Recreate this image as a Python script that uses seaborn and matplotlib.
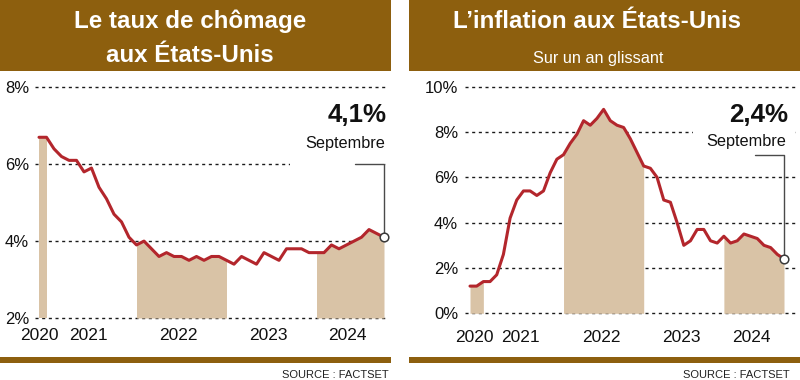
import numpy as np
import pandas as pd
import matplotlib
matplotlib.use("Agg")
import matplotlib.pyplot as plt
from matplotlib.patches import Rectangle
from matplotlib import font_manager as fm
import seaborn as sns

# ---------------- data ----------------
unemp_first_month = "2020-11-01"
unemployment = [6.7, 6.7,
                6.4, 6.2, 6.1, 6.1, 5.8, 5.9, 5.4, 5.1, 4.7, 4.5, 4.1, 3.9,
                4.0, 3.8, 3.6, 3.7, 3.6, 3.6, 3.5, 3.6, 3.5, 3.6, 3.6, 3.5,
                3.4, 3.6, 3.5, 3.4, 3.7, 3.6, 3.5, 3.8, 3.8, 3.8, 3.7, 3.7,
                3.7, 3.9, 3.8, 3.9, 4.0, 4.1, 4.3, 4.2, 4.1]

infl_first_month = "2020-10-01"
inflation = [1.2, 1.2, 1.4,
             1.4, 1.7, 2.6, 4.2, 5.0, 5.4, 5.4, 5.2, 5.4, 6.2, 6.8, 7.0,
             7.5, 7.9, 8.5, 8.3, 8.6, 9.0, 8.5, 8.3, 8.2, 7.7, 7.1, 6.5,
             6.4, 6.0, 5.0, 4.9, 4.0, 3.0, 3.2, 3.7, 3.7, 3.2, 3.1, 3.4,
             3.1, 3.2, 3.5, 3.4, 3.3, 3.0, 2.9, 2.6, 2.4]

years = [2020, 2021, 2022, 2023, 2024]
shaded_years = [2020, 2022, 2024]
unemp_ticks = [2, 4, 6, 8]
infl_ticks = [0, 2, 4, 6, 8, 10]
unemp_title = ["Le taux de chômage", "aux États-Unis"]
infl_title = "L\u2019inflation aux États-Unis"
infl_subtitle = "Sur un an glissant"
unemp_last_label = "4,1%"
infl_last_label = "2,4%"
month_label = "Septembre"
source_label = "SOURCE : FACTSET"

# ---------------- style ----------------
sns.set_theme(style="white")
plt.rcParams["font.family"] = ["Liberation Sans", "DejaVu Sans"]


def has_font(name):
    try:
        fm.findfont(fm.FontProperties(family=name), fallback_to_default=False)
        return True
    except Exception:
        return False


NARROW = "Liberation Sans Narrow" if has_font("Liberation Sans Narrow") else None

BROWN = "#8D5F0E"
RED = "#B3262C"
TAN = "#D9C3A6"
LEAD = "#4A4A4A"

W, H = 800, 380
fig = plt.figure(figsize=(8, 3.8), dpi=100)
fig.patch.set_facecolor("white")


def px(x, y_top):
    return x / W, 1 - y_top / H


def ax_px(x0, x1, y_top, y_bottom):
    return fig.add_axes([x0 / W, 1 - y_bottom / H, (x1 - x0) / W, (y_bottom - y_top) / H])


def band_ranges(dates):
    out = {}
    n = len(dates)
    for yr in years:
        prev_dec = np.where((dates.year == yr - 1) & (dates.month == 12))[0]
        this_dec = np.where((dates.year == yr) & (dates.month == 12))[0]
        s = int(prev_dec[0]) if len(prev_dec) else 0
        e = int(this_dec[0]) if len(this_dec) else n - 1
        out[yr] = (s, e)
    return out


def draw_panel(ax, values, first_month, ylim, ticks, ylabel_pad, xlabel_pad):
    dates = pd.date_range(first_month, periods=len(values), freq="MS")
    df = pd.DataFrame({"i": np.arange(len(values)), "v": values})
    bands = band_ranges(dates)
    lo = ylim[0]
    # gridlines
    for t in ticks:
        ax.axhline(t, color="#1a1a1a", lw=1.0, ls=(0, (2.2, 2.6)), zorder=1)
    # shaded alternate years
    for yr in shaded_years:
        s, e = bands[yr]
        ax.fill_between(df["i"][s:e + 1], df["v"][s:e + 1], lo, color=TAN, lw=0, zorder=2)
    sns.lineplot(data=df, x="i", y="v", ax=ax, color=RED, lw=2.2, zorder=4)
    for l in ax.lines:
        l.set_clip_on(False)
    ax.set_ylim(*ylim)
    ax.set_yticks(ticks)
    ax.set_yticklabels([f"{t}%" for t in ticks])
    mids = [(bands[yr][0] + bands[yr][1]) / 2 - 0.4 for yr in years]
    ax.set_xticks(mids)
    ax.set_xticklabels([str(y) for y in years])
    ax.tick_params(axis="y", length=0, pad=ylabel_pad, labelsize=12, colors="#111111")
    ax.tick_params(axis="x", length=0, pad=xlabel_pad, colors="#111111")
    for lab in ax.get_xticklabels():
        if NARROW:
            lab.set_fontfamily([NARROW, "DejaVu Sans"])
            lab.set_fontsize(13.5)
        else:
            lab.set_fontsize(12.5)
    ax.set_xlabel("")
    ax.set_ylabel("")
    for sp in ax.spines.values():
        sp.set_visible(False)
    ax.set_facecolor("none")
    return df


# ---------------- left panel ----------------
axL = ax_px(35, 385, 87.3, 318)
dfL = draw_panel(axL, unemployment, unemp_first_month, (2, 8), unemp_ticks, 4.3, 7.0)
axL.set_xlim(-4 / 7.5, len(unemployment) - 1 + 1 / 7.5)
lastL = len(unemployment) - 1
axL.add_patch(Rectangle((33.5, 5.92), 20, 1.95, facecolor="white", edgecolor="none", zorder=1.5))
axL.plot([42.1, lastL, lastL], [6.0, 6.0, unemployment[-1]], color=LEAD, lw=1.0, zorder=3, clip_on=False)
axL.plot([lastL], [unemployment[-1]], "o", ms=6.2, mfc="white", mec="#3a3a3a", mew=1.1, zorder=6, clip_on=False)

# ---------------- right panel ----------------
axR = ax_px(465, 795, 86.7, 313.3)
dfR = draw_panel(axR, inflation, infl_first_month, (0, 10), infl_ticks, 5.0, 12.0)
axR.set_xlim(-5 / 6.68, len(inflation) - 1 + 11 / 6.68)
lastR = len(inflation) - 1
axR.add_patch(Rectangle((33.4, 6.85), 20, 2.9, facecolor="white", edgecolor="none", zorder=1.5))
axR.plot([42.7, lastR, lastR], [7.0, 7.0, inflation[-1]], color=LEAD, lw=1.0, zorder=3, clip_on=False)
axR.plot([lastR], [inflation[-1]], "o", ms=6.2, mfc="white", mec="#3a3a3a", mew=1.1, zorder=6, clip_on=False)

# ---------------- headers, bars, texts ----------------
fig.patches.append(Rectangle(px(0, 71), 391 / W, 71 / H, transform=fig.transFigure,
                             facecolor=BROWN, edgecolor="none", zorder=0))
fig.patches.append(Rectangle(px(409, 71), 391 / W, 71 / H, transform=fig.transFigure,
                             facecolor=BROWN, edgecolor="none", zorder=0))
fig.patches.append(Rectangle(px(0, 363.3), 391 / W, 6.6 / H, transform=fig.transFigure,
                             facecolor=BROWN, edgecolor="none", zorder=0))
fig.patches.append(Rectangle(px(409, 363.3), 391 / W, 6.6 / H, transform=fig.transFigure,
                             facecolor=BROWN, edgecolor="none", zorder=0))

fig.text(*px(190, 28.3), unemp_title[0], color="white", fontsize=17.4, fontweight="bold",
         ha="center", va="baseline")
fig.text(*px(190, 61.7), unemp_title[1], color="white", fontsize=17.4, fontweight="bold",
         ha="center", va="baseline")
fig.text(*px(597, 28.3), infl_title, color="white", fontsize=17.4, fontweight="bold",
         ha="center", va="baseline")
fig.text(*px(598, 63.3), infl_subtitle, color="white", fontsize=11.7,
         ha="center", va="baseline")

fig.text(*px(387, 121.7), unemp_last_label, color="#111111", fontsize=18.6, fontweight="bold",
         ha="right", va="baseline")
fig.text(*px(385.5, 148.3), month_label, color="#111111", fontsize=11.7, ha="right", va="baseline")
fig.text(*px(788.5, 121.7), infl_last_label, color="#111111", fontsize=18.6, fontweight="bold",
         ha="right", va="baseline")
fig.text(*px(786.5, 145.7), month_label, color="#111111", fontsize=11.7, ha="right", va="baseline")

src_kw = dict(color="#222222", ha="right", va="baseline")
if NARROW:
    src_kw.update(fontfamily=[NARROW, "DejaVu Sans"], fontsize=8.6)
else:
    src_kw.update(fontsize=8.0)
fig.text(*px(389, 378.3), source_label, **src_kw)
fig.text(*px(790, 378.3), source_label, **src_kw)

fig.savefig("out.png", dpi=100, facecolor="white")
